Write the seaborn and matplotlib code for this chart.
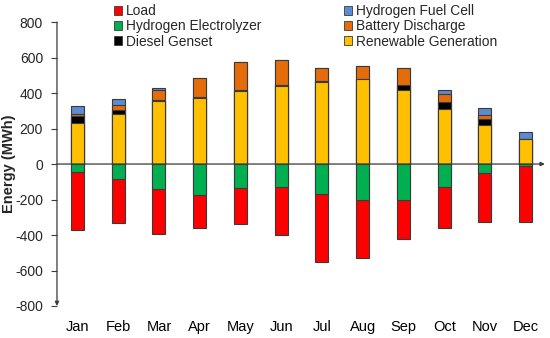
import matplotlib
matplotlib.use('Agg')
import matplotlib.pyplot as plt
from matplotlib.patches import Patch
import numpy as np
import seaborn as sns

months = ['Jan', 'Feb', 'Mar', 'Apr', 'May', 'Jun', 'Jul', 'Aug', 'Sep', 'Oct', 'Nov', 'Dec']

# supply side (positive), stacked bottom -> top
renewable = [232, 281, 353, 372, 413, 439, 463, 477, 420, 310, 218, 141]
diesel = [39, 21, 7, 4, 4, 9, 3, 0, 26, 41, 38, 0]
battery = [13, 28, 56, 107, 158, 139, 75, 73, 96, 43, 19, 0]
fuel_cell = [45, 39, 15, 0, 0, 0, 0, 0, 0, 26, 38, 38]

# demand side (negative), stacked from zero downwards
electrolyzer = [-47, -83, -143, -175, -137, -131, -169, -201, -205, -129, -53, -13]
load = [-327, -249, -251, -183, -199, -270, -384, -330, -220, -229, -271, -311]

c_load = '#FF0000'
c_elec = '#00B050'
c_diesel = '#000000'
c_fc = '#5B8BD0'
c_batt = '#E46C0A'
c_ren = '#FFC000'
edge = '#3A3A3A'

sns.set_style('white')
plt.rcParams['font.family'] = ['Liberation Sans', 'DejaVu Sans']
plt.rcParams['axes.unicode_minus'] = False

fig = plt.figure(figsize=(5.5, 3.38), dpi=100)
ax = fig.add_axes([0.1036, 0.0947, 0.887, 0.840])

pos_layers = [renewable, diesel, battery, fuel_cell]
pos_colors = [c_ren, c_diesel, c_batt, c_fc]
cum = np.cumsum(np.array(pos_layers), axis=0)
# draw tallest cumulative first so lower segments sit on top
for i in range(len(pos_layers) - 1, -1, -1):
    sns.barplot(x=months, y=cum[i], color=pos_colors[i], saturation=1, width=0.32,
                edgecolor=edge, linewidth=0.8, ax=ax, order=months)

neg_layers = [electrolyzer, load]
neg_colors = [c_elec, c_load]
cum_n = np.cumsum(np.array(neg_layers), axis=0)
for i in range(len(neg_layers) - 1, -1, -1):
    sns.barplot(x=months, y=cum_n[i], color=neg_colors[i], saturation=1, width=0.32,
                edgecolor=edge, linewidth=0.8, ax=ax, order=months)

ax.set_xlim(-0.503, 11.47)
ax.set_ylim(-800, 800)
ax.set_yticks(range(-800, 801, 200))
ax.set_xlabel('')
ax.set_ylabel('Energy (MWh)', fontsize=10.5, fontweight='bold')
ax.yaxis.set_label_coords(-0.084, 0.5)

for s in ['top', 'right', 'bottom', 'left']:
    ax.spines[s].set_visible(False)

ax.tick_params(axis='x', length=0, pad=10, labelsize=10.5, colors='black')
ax.tick_params(axis='y', direction='out', length=4, width=0.8, color=edge,
               labelsize=10, pad=6, left=True)

# y axis with arrow at the bottom
ax.annotate('', xy=(0, 0), xycoords='axes fraction', xytext=(0, 1),
            textcoords='axes fraction',
            arrowprops=dict(arrowstyle='-|>', color=edge, lw=0.9, mutation_scale=6,
                            shrinkA=0, shrinkB=0), annotation_clip=False)
# zero line with arrow at the right
ax.annotate('', xy=(1, 0), xycoords=('axes fraction', 'data'), xytext=(0, 0),
            textcoords=('axes fraction', 'data'),
            arrowprops=dict(arrowstyle='-|>', color=edge, lw=0.9, mutation_scale=6,
                            shrinkA=0, shrinkB=0), annotation_clip=False, zorder=5)

handles = [
    Patch(facecolor=c_load, edgecolor=edge, linewidth=0.6, label='Load'),
    Patch(facecolor=c_elec, edgecolor=edge, linewidth=0.6, label='Hydrogen Electrolyzer'),
    Patch(facecolor=c_diesel, edgecolor=edge, linewidth=0.6, label='Diesel Genset'),
    Patch(facecolor=c_fc, edgecolor=edge, linewidth=0.6, label='Hydrogen Fuel Cell'),
    Patch(facecolor=c_batt, edgecolor=edge, linewidth=0.6, label='Battery Discharge'),
    Patch(facecolor=c_ren, edgecolor=edge, linewidth=0.6, label='Renewable Generation'),
]
fig.legend(handles=handles, loc='upper left', bbox_to_anchor=(0.207, 0.987), ncol=2,
           frameon=False, fontsize=9.9, handlelength=0.58, handleheight=0.58,
           handletextpad=0.3, labelspacing=0.08, columnspacing=6.0,
           borderpad=0, borderaxespad=0)

fig.savefig('out.png', dpi=100)
